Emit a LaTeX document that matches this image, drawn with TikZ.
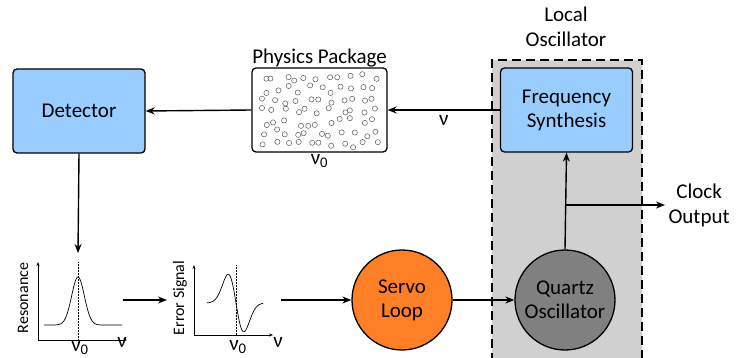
\documentclass[tikz,border=0pt]{standalone}
\usepackage{fontspec}
\setmainfont{Carlito}
\usepackage{xcolor}
\usetikzlibrary{positioning,calc,arrows.meta}

\definecolor{boxblue}{RGB}{153,204,255}
\definecolor{servoorange}{RGB}{255,127,39}
\definecolor{quartzgray}{RGB}{128,128,128}
\definecolor{loshade}{RGB}{208,208,208}

\tikzset{
    block/.style={draw, rounded corners=4pt, fill=boxblue, line width=1.3pt,
        minimum width=132pt, minimum height=84pt, align=center,
        font=\fontsize{21}{24}\selectfont},
    disc/.style={draw, circle, line width=1.3pt, minimum size=100pt, align=center,
        font=\fontsize{21}{24}\selectfont},
    flow/.style={line width=1.4pt, -{Stealth[length=9pt,width=7pt]}},
    axis/.style={line width=0.6pt, -{Stealth[length=4pt,width=3pt]}},
    small/.style={font=\fontsize{16}{18}\selectfont},
    big/.style={font=\fontsize{21}{25}\selectfont}
}

\begin{document}
\begin{tikzpicture}[x=1pt,y=-1pt]
    \useasboundingbox (0,0) rectangle (741,358);

    % Local oscillator enclosure
    \fill[loshade] (492,60) rectangle (642,362);
    \draw[line width=1.3pt, dash pattern=on 9pt off 5pt] (492,362) -- (492,60) -- (642,60) -- (642,362);
    \node[big, align=center] (lotitle) at (566,27) {Local\\Oscillator};

    % Blocks
    \node[block] (det) at (79,111) {Detector};
    \node[block, fill=white, minimum width=135pt] (pkg) at (319.5,110) {};
    \node[big, above=-3pt of pkg] (pkgtitle) {Physics Package};
    \node[big, below=-2pt of pkg] (pkgnu) {ν\textsubscript{0}};
    \node[block] (fs) at (566.5,110) {Frequency\\Synthesis};
    \node[disc, fill=servoorange] (servo) at (402,300) {Servo\\Loop};
    \node[disc, fill=quartzgray] (quartz) at (565,300) {Quartz\\Oscillator};

    % Atoms in the package
    \pgfmathsetseed{4217}
    \foreach \i in {0,...,10} {
        \foreach \j in {0,...,6} {
            \pgfmathsetmacro\px{263+11.2*\i+9*(rnd-0.5)}
            \pgfmathsetmacro\py{78+11*\j+8*(rnd-0.5)}
            \draw[gray!70!black, line width=0.5pt] (\px,\py) circle (2.6pt);
        }
    }

    % Main signal path
    \draw[flow] (pkg.west) -- (det.east);
    \draw[flow] (fs.west) -- node[big, below=1pt] (nu) {ν} (pkg.east);
    \coordinate (tap) at (565,205);
    \coordinate (clk) at (665,205);
    \draw[flow] (quartz.north) -- (fs.south);
    \draw[flow] (tap) -- (clk);
    \node[big, align=center, right=0pt of clk] (clktext) {Clock\\Output};

    % Resonance plot
    \coordinate (resin) at (78,253);
    \draw[flow] (det.south) -- (resin);
    \draw[axis] (38,340) -- (127,340);
    \draw[axis] (38,340) -- (38,262);
    \draw[densely dotted, line width=0.5pt] (78,262) -- (78,340);
    \draw[line width=0.7pt] plot[domain=44:122, samples=80, smooth] (\x, {325-48*exp(-((\x-78)/9)^2)});
    \node[small, rotate=90] (reslabel) at (23,298) {Resonance};
    \node[big, inner sep=0pt, anchor=base] (resnu0) at (80,351) {ν\textsubscript{0}};
    \node[big, inner sep=0pt, anchor=base] (resnu) at (122,347) {ν};

    % Error signal plot
    \coordinate (resout) at (123,300);
    \coordinate (errin) at (167,300);
    \draw[flow] (resout) -- (errin);
    \draw[axis] (194,335) -- (273,335);
    \draw[axis] (194,335) -- (194,265);
    \draw[densely dotted, line width=0.5pt] (236,265) -- (236,335);
    \draw[line width=0.7pt] plot[domain=207:263, samples=80, smooth] (\x, {303+67*((\x-236)/11)*exp(-((\x-236)/11)^2)});
    \node[small, rotate=90] (errlabel) at (180,298) {Error Signal};
    \node[big, inner sep=0pt, anchor=base] (errnu0) at (238,350) {ν\textsubscript{0}};
    \node[big, inner sep=0pt, anchor=base] (errnu) at (278,347) {ν};

    % Feedback to the oscillator
    \coordinate (errout) at (281,300);
    \draw[flow] (errout) -- (servo.west);
    \draw[flow] (servo.east) -- (quartz.west);
\end{tikzpicture}
\end{document}
